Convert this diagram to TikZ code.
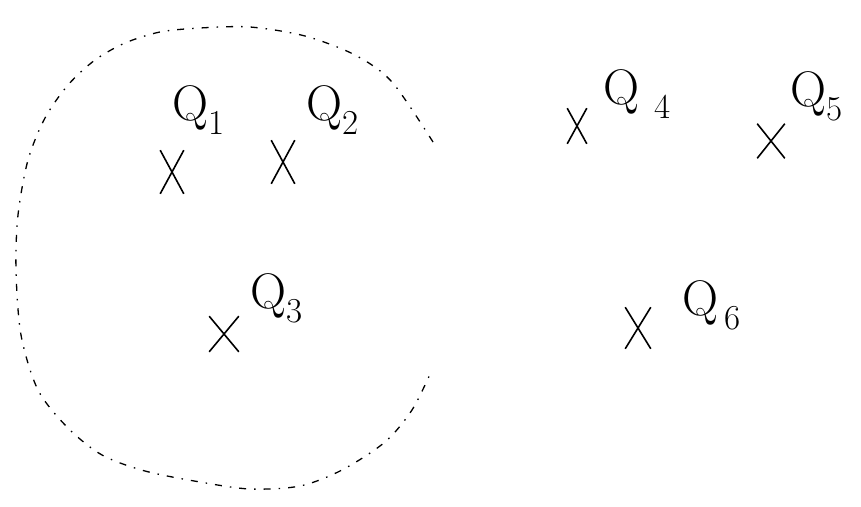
\documentclass[tikz,border=0pt]{standalone}
\usetikzlibrary{shapes.misc}

\begin{document}
\begin{tikzpicture}[
  x=1pt,y=-1pt,
  xmark/.style={cross out,draw,line width=1.6pt,inner sep=0pt,minimum width=22pt,minimum height=42pt},
  qlabel/.style={anchor=base west,inner sep=0pt,font=\fontsize{50}{50}\selectfont},
  boundary/.style={line width=1.3pt,dash pattern=on 7pt off 8pt on 1.5pt off 8pt}
]
  \useasboundingbox (0,0) rectangle (861,506);

  % charges inside the region
  \node[xmark] (x1) at (172,172) {};
  \node[xmark] (x2) at (283,162) {};
  \node[xmark,minimum width=28pt,minimum height=34pt] (x3) at (224,334) {};
  \node[qlabel] (q1) at (172,120) {Q\textsubscript{1}};
  \node[qlabel] (q2) at (306,120) {Q\textsubscript{2}};
  \node[qlabel] (q3) at (250,308) {Q\textsubscript{3}};

  % charges outside
  \node[xmark,minimum width=18pt,minimum height=34pt] (x4) at (577,126) {};
  \node[xmark,minimum width=26pt,minimum height=33pt] (x5) at (771,141) {};
  \node[xmark,minimum width=24pt,minimum height=40pt] (x6) at (638,328) {};
  \node[qlabel] (q4) at (603,104) {Q\textsubscript{\;\,4}};
  \node[qlabel] (q5) at (790,106) {Q\textsubscript{5}};
  \node[qlabel] (q6) at (682,315) {Q\textsubscript{\,6}};

  % closed surface, open on the right
  \draw[boundary] plot[smooth] coordinates {
    (433,142) (392,82) (355,55) (305,36) (250,27) (200,28) (160,32) (125,43)
    (95,60) (68,85) (45,118) (28,160) (18,215) (16,270) (21,335) (38,390)
    (68,428) (102,455) (145,471) (200,482) (250,489) (300,486) (342,470)
    (385,442) (412,410) (431,372)};
\end{tikzpicture}
\end{document}
